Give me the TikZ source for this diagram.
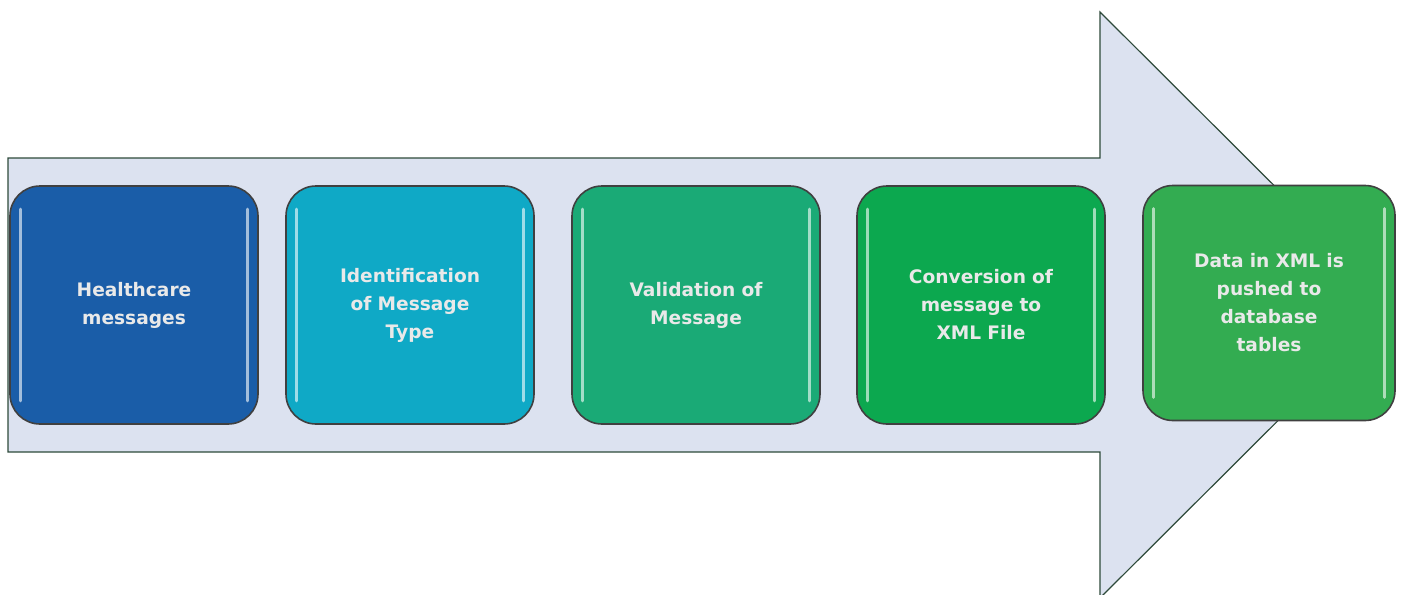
\documentclass[tikz,border=0pt]{standalone}
\usepackage{fontspec}
\setmainfont{DejaVu Sans}
\usetikzlibrary{positioning}
\definecolor{arrowfill}{HTML}{DCE2F0}
\definecolor{arrowline}{HTML}{2E4A3A}
\definecolor{healthblue}{HTML}{1A5DA8}
\definecolor{identteal}{HTML}{0FA9C6}
\definecolor{validgreen}{HTML}{1AAA76}
\definecolor{convgreen}{HTML}{0CA84F}
\definecolor{pushgreen}{HTML}{33AC51}
\definecolor{labelgray}{HTML}{E9E9E9}
\begin{document}
\begin{tikzpicture}[x=1pt, y=-1pt,
      stage/.style={rectangle, rounded corners=30pt, minimum width=248pt, minimum height=238pt,
        draw=black!75, line width=1.6pt, text=labelgray, text width=200pt, align=center,
        font=\fontsize{18.6}{28}\selectfont\bfseries},
      gloss/.style={white, opacity=0.6, line width=3pt, line cap=round}]
      \useasboundingbox (0,0) rectangle (1402,594);
      % big arrow behind the stages
      \draw[fill=arrowfill, draw=arrowline, line width=1.2pt]
        (8,158) -- (1100,158) -- (1100,12) -- (1394,305) -- (1100,598) -- (1100,452) -- (8,452) -- cycle;
      \node[stage, fill=healthblue] (health) at (134,305) {Healthcare\\messages};
      \node[stage, fill=identteal] (ident) at (410,305) {Identification\\of Message\\Type};
      \node[stage, fill=validgreen] (valid) at (696,305) {Validation of\\Message};
      \node[stage, fill=convgreen] (conv) at (981,305) {Conversion of\\message to\\XML File};
      \node[stage, fill=pushgreen, minimum width=252pt, minimum height=235pt] (push) at (1269,303)
        {Data in XML is\\pushed to\\database\\tables};
      % glossy edges
      \foreach \s in {health,ident,valid,conv,push} {
        \draw[gloss] ([xshift=11pt,yshift=-24pt]\s.north west) -- ([xshift=11pt,yshift=24pt]\s.south west);
        \draw[gloss] ([xshift=-11pt,yshift=-24pt]\s.north east) -- ([xshift=-11pt,yshift=24pt]\s.south east);
      }
    \end{tikzpicture}
\end{document}
